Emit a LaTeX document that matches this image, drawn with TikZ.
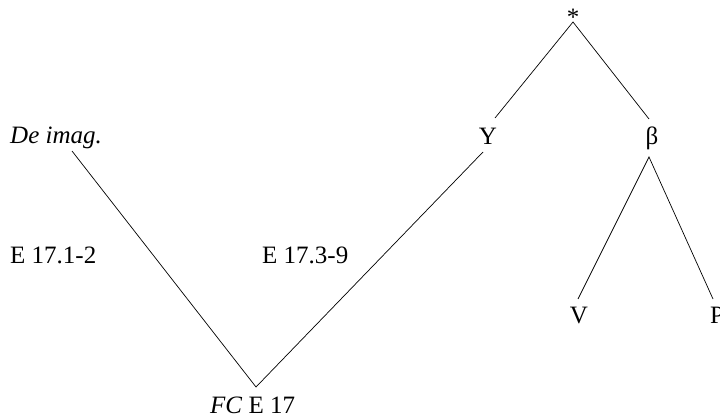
\documentclass[tikz,border=0pt]{standalone}
\usepackage{fontspec}
\setmainfont{Liberation Serif}
\begin{document}
\begin{tikzpicture}[x=1pt,y=-1pt,
  lbl/.style={inner sep=0pt,font=\fontsize{25}{28}\selectfont},
  edge/.style={line width=0.7pt,black}]
\useasboundingbox (0,0) rectangle (720,417);
% labels
\node[lbl,anchor=base] (star) at (573,26) {*};
\node[lbl,anchor=base] (Y) at (488,145) {Y};
\node[lbl,anchor=base] (beta) at (652,145) {β};
\node[lbl,anchor=base west] (deimag) at (10,143) {\itshape De imag.};
\node[lbl,anchor=base west] (e1) at (10,263) {E 17.1-2};
\node[lbl,anchor=base west] (e3) at (262,263) {E 17.3-9};
\node[lbl,anchor=base] (V) at (579,323) {V};
\node[lbl,anchor=base west] (P) at (710,323) {P};
\node[lbl,anchor=base west] (fc) at (210,413) {\textit{FC} E 17};
% connector ends
\coordinate (starB) at (573,22);
\coordinate (Yt) at (495,118);
\coordinate (Yb) at (483,152);
\coordinate (bt) at (649,119);
\coordinate (bb) at (649,157);
\coordinate (Vt) at (578,299);
\coordinate (Pt) at (713,299);
\coordinate (fcT) at (256,387);
\coordinate (deB) at (72,151);
% connectors
\draw[edge] (Yt) -- (starB) -- (bt);
\draw[edge] (deB) -- (fcT) -- (Yb);
\draw[edge] (Vt) -- (bb) -- (Pt);
\end{tikzpicture}
\end{document}
